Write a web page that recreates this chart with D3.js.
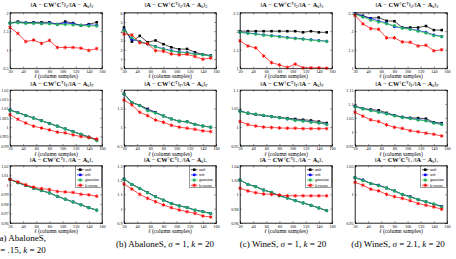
<!DOCTYPE html>
<html>
<head>
<meta charset="utf-8">
<script src="https://cdn.jsdelivr.net/npm/d3@7"></script>
<style>
body { margin: 0; background: #fff; }
svg { display: block; }
text { font-family: "Liberation Serif", serif; fill: #000; }
</style>
</head>
<body>
<script>
// column sample counts (x values) and axis ticks
const ells = [20, 32, 44, 56, 68, 80, 92, 104, 116, 128, 140, 152];
const xTicks = [20, 40, 60, 80, 100, 120, 140, 160];
const seriesNames = ["unif", "srft", "gaussian", "levscore"];
const normSubs = ["2", "F", "\u22c6"];

// spectral norm row
const unif_spec_a = [1.72, 1.76, 1.73, 1.74, 1.74, 1.74, 1.69, 1.76, 1.72, 1.65, 1.69, 1.74];
const srft_spec_a = [1.72, 1.74, 1.72, 1.72, 1.71, 1.72, 1.69, 1.72, 1.70, 1.66, 1.67, 1.66];
const gauss_spec_a = [1.72, 1.73, 1.71, 1.71, 1.70, 1.70, 1.68, 1.68, 1.67, 1.66, 1.64, 1.64];
const lev_spec_a = [1.60, 1.44, 1.22, 1.26, 1.17, 1.25, 1.06, 1.06, 1.06, 1.04, 0.98, 1.03];

const unif_spec_b = [4.4, 2.87, 3.5, 2.8, 3.0, 2.6, 2.26, 2.05, 2.08, 1.72, 1.5, 1.36];
const srft_spec_b = [4.2, 3.1, 2.9, 2.6, 2.35, 2.1, 1.9, 1.75, 1.7, 1.55, 1.45, 1.35];
const gauss_spec_b = [4.1, 3.3, 2.85, 2.65, 2.3, 2.05, 1.85, 1.7, 1.65, 1.5, 1.45, 1.3];
const lev_spec_b = [3.7, 3.6, 2.76, 2.65, 1.9, 1.83, 1.54, 1.45, 1.5, 1.26, 0.97, 1.1];

const unif_spec_c = [2.0, 2.0, 2.0, 2.0, 2.0, 2.0, 2.0, 2.0, 1.97, 2.0, 1.97, 1.97];
const srft_spec_c = [1.97, 1.95, 1.93, 1.9, 1.88, 1.86, 1.83, 1.81, 1.79, 1.77, 1.75, 1.73];
const gauss_spec_c = [1.97, 1.94, 1.92, 1.89, 1.87, 1.85, 1.82, 1.80, 1.78, 1.76, 1.74, 1.72];
const lev_spec_c = [1.74, 1.6, 1.55, 1.33, 1.15, 1.09, 1.02, 1.11, 1.01, 1.01, 1.01, 1.0];

const unif_spec_d = [2.48, 2.42, 2.35, 2.37, 2.28, 2.27, 2.1, 2.1, 2.1, 2.14, 2.03, 2.03];
const srft_spec_d = [2.47, 2.4, 2.34, 2.28, 2.22, 2.12, 2.09, 2.06, 2.02, 1.97, 1.9, 1.86];
const gauss_spec_d = [2.45, 2.38, 2.3, 2.25, 2.2, 2.15, 2.08, 2.05, 2.0, 1.95, 1.88, 1.85];
const lev_spec_d = [2.43, 2.2, 2.07, 2.05, 1.82, 1.82, 1.71, 1.7, 1.6, 1.62, 1.47, 1.5];

// frobenius norm row
const unif_frob_a = [1.0092, 1.0078, 1.0064, 1.0049, 1.0035, 1.002, 1.0006, 0.9991, 0.9976, 0.9962, 0.9947, 0.9932];
const srft_frob_a = [1.0092, 1.0078, 1.0063, 1.0049, 1.0034, 1.002, 1.0005, 0.999, 0.9976, 0.9961, 0.9946, 0.993];
const gauss_frob_a = [1.0091, 1.0077, 1.0063, 1.0048, 1.0034, 1.0019, 1.0005, 0.999, 0.9975, 0.9961, 0.9945, 0.9927];
const lev_frob_a = [1.0067, 1.0042, 1.0022, 1.0005, 0.9995, 0.9985, 0.9973, 0.9969, 0.9958, 0.9949, 0.9944, 0.9936];

const unif_frob_b = [1.9, 1.67, 1.59, 1.49, 1.4, 1.3, 1.22, 1.16, 1.15, 1.08, 1.03, 1.0];
const srft_frob_b = [1.89, 1.66, 1.58, 1.46, 1.39, 1.3, 1.22, 1.16, 1.14, 1.07, 1.03, 1.0];
const gauss_frob_b = [1.89, 1.66, 1.58, 1.44, 1.38, 1.3, 1.22, 1.16, 1.14, 1.07, 1.03, 1.0];
const lev_frob_b = [1.73, 1.6, 1.4, 1.31, 1.19, 1.13, 1.05, 1.0, 0.97, 0.94, 0.9, 0.88];

const unif_frob_c = [1.044, 1.037, 1.034, 1.031, 1.029, 1.026, 1.024, 1.022, 1.02, 1.018, 1.015, 1.011];
const srft_frob_c = [1.043, 1.038, 1.035, 1.031, 1.028, 1.025, 1.022, 1.019, 1.017, 1.014, 1.011, 1.008];
const gauss_frob_c = [1.042, 1.038, 1.035, 1.032, 1.028, 1.025, 1.022, 1.018, 1.016, 1.013, 1.011, 1.007];
const lev_frob_c = [1.015, 1.007, 1.003, 1.0, 0.999, 0.998, 0.997, 0.997, 0.996, 0.996, 0.996, 0.996];

const unif_frob_d = [1.093, 1.083, 1.08, 1.077, 1.068, 1.059, 1.053, 1.05, 1.049, 1.047, 1.034, 1.031];
const srft_frob_d = [1.091, 1.083, 1.077, 1.071, 1.065, 1.058, 1.052, 1.048, 1.044, 1.04, 1.032, 1.028];
const gauss_frob_d = [1.09, 1.082, 1.076, 1.07, 1.064, 1.057, 1.051, 1.047, 1.042, 1.039, 1.031, 1.026];
const lev_frob_d = [1.07, 1.056, 1.043, 1.037, 1.025, 1.016, 1.012, 1.004, 1.0, 0.995, 0.991, 0.985];

// trace norm row
const unif_trace_a = [1.0057, 1.0022, 0.9993, 0.9965, 0.994, 0.9915, 0.988, 0.985, 0.982, 0.979, 0.976, 0.9735];
const srft_trace_a = [1.0057, 1.0022, 0.9993, 0.9965, 0.994, 0.9914, 0.988, 0.985, 0.982, 0.979, 0.976, 0.9735];
const gauss_trace_a = [1.0057, 1.0022, 0.9993, 0.9964, 0.9939, 0.9914, 0.9879, 0.9849, 0.9819, 0.979, 0.976, 0.9734];
const lev_trace_a = [1.0057, 1.003, 1.0, 0.9975, 0.996, 0.995, 0.993, 0.9925, 0.992, 0.99, 0.9895, 0.988];

const unif_trace_b = [1.207, 1.17, 1.142, 1.112, 1.084, 1.06, 1.037, 1.02, 1.009, 0.99, 0.979, 0.967];
const srft_trace_b = [1.207, 1.17, 1.142, 1.112, 1.084, 1.06, 1.037, 1.019, 1.009, 0.99, 0.979, 0.967];
const gauss_trace_b = [1.206, 1.169, 1.141, 1.111, 1.083, 1.059, 1.036, 1.019, 1.008, 0.989, 0.978, 0.966];
const lev_trace_b = [1.172, 1.137, 1.1, 1.072, 1.049, 1.026, 1.007, 0.991, 0.979, 0.967, 0.949, 0.942];

const unif_trace_c = [1.02, 1.014, 1.0107, 1.006, 1.0028, 0.998, 0.9949, 0.9912, 0.988, 0.9847, 0.981, 0.9772];
const srft_trace_c = [1.02, 1.014, 1.0107, 1.006, 1.0028, 0.998, 0.9949, 0.9912, 0.988, 0.9847, 0.981, 0.9772];
const gauss_trace_c = [1.0199, 1.0139, 1.0106, 1.0059, 1.0027, 0.9979, 0.9948, 0.9911, 0.9879, 0.9846, 0.9809, 0.9771];
const lev_trace_c = [1.0084, 1.0047, 1.0023, 1.0005, 1.0, 0.9991, 0.998, 0.998, 0.998, 0.998, 0.998, 0.998];

const unif_trace_d = [1.029, 1.025, 1.019, 1.016, 1.011, 1.006, 1.0, 0.996, 0.991, 0.987, 0.983, 0.979];
const srft_trace_d = [1.029, 1.025, 1.019, 1.016, 1.011, 1.006, 1.0, 0.996, 0.991, 0.987, 0.983, 0.979];
const gauss_trace_d = [1.029, 1.024, 1.019, 1.015, 1.011, 1.006, 1.0, 0.995, 0.991, 0.987, 0.983, 0.978];
const lev_trace_d = [1.021, 1.016, 1.009, 1.006, 1.0, 0.996, 0.993, 0.989, 0.984, 0.981, 0.978, 0.974];

// y tick labels per panel (row by row)
const yTicks = [
    [[0.5, 1, 1.5, 2], [0, 1, 2, 3, 4, 5, 6], [1, 1.5, 2, 2.5], [1, 1.5, 2, 2.5]],
    [[0.99, 0.995, 1, 1.005, 1.01, 1.015, 1.02], [0.5, 1, 1.5, 2], [0.95, 1, 1.05, 1.1], [0.95, 1, 1.05, 1.1, 1.15]],
    [[0.96, 0.97, 0.98, 0.99, 1, 1.01, 1.02], [0.9, 1, 1.1, 1.2, 1.3], [0.96, 0.98, 1, 1.02, 1.04], [0.95, 1, 1.05]]
];

const panelData = [
    [[unif_spec_a, srft_spec_a, gauss_spec_a, lev_spec_a], [unif_spec_b, srft_spec_b, gauss_spec_b, lev_spec_b],
     [unif_spec_c, srft_spec_c, gauss_spec_c, lev_spec_c], [unif_spec_d, srft_spec_d, gauss_spec_d, lev_spec_d]],
    [[unif_frob_a, srft_frob_a, gauss_frob_a, lev_frob_a], [unif_frob_b, srft_frob_b, gauss_frob_b, lev_frob_b],
     [unif_frob_c, srft_frob_c, gauss_frob_c, lev_frob_c], [unif_frob_d, srft_frob_d, gauss_frob_d, lev_frob_d]],
    [[unif_trace_a, srft_trace_a, gauss_trace_a, lev_trace_a], [unif_trace_b, srft_trace_b, gauss_trace_b, lev_trace_b],
     [unif_trace_c, srft_trace_c, gauss_trace_c, lev_trace_c], [unif_trace_d, srft_trace_d, gauss_trace_d, lev_trace_d]]
];

let w = 456;
let h = 259;

// layout
let colX = [10, 124, 240, 355];
let plotW = 92;
let rowY = [12.7, 90, 165.7];
let rowH = [55.5, 55.7, 57.3];
let titleDy = [-5.7, -4, -3.7];

let lineColors = ["#000000", "#0000ff", "#22dd22", "#ff0000"];
let markerFill = ["#000000", "#0000ff", "#2a9d74", "#ff0000"];
let markerType = [d3.symbolSquare, d3.symbolCircle, d3.symbolCircle, d3.symbolAsterisk];
let markerSize = [6.5, 6.5, 6.5, 9];

let svg = d3.select("body")
    .append("svg")
    .attr("width", w)
    .attr("height", h);

function addTitle(g, x, y, sub) {
    let t = g.append("text")
        .attr("x", x)
        .attr("y", y)
        .attr("text-anchor", "middle")
        .attr("font-size", "6.3px");
    let parts = [
        ["\u2016", "", 0], ["A", "b", 0], [" \u2212 ", "", 0], ["CW", "b", 0],
        ["\u2020", "s", -2], ["C", "b", 2], ["T", "s", -2], ["\u2016", "", 2],
        [sub, "s", 1.3], ["/\u2016", "", -1.3], ["A", "b", 0], [" \u2212 ", "", 0],
        ["A", "b", 0], ["k", "s", 1.3], ["\u2016", "", -1.3], [sub, "s", 1.3]
    ];
    parts.forEach(function (p) {
        let ts = t.append("tspan").text(p[0]).attr("dy", p[2]);
        if (p[1] === "b") ts.attr("font-weight", "bold");
        if (p[1] === "s") ts.attr("font-size", "4.4px");
    });
}

for (let r = 0; r < 3; r++) {
    for (let c = 0; c < 4; c++) {
        let ph = rowH[r];
        let ticks = yTicks[r][c];
        let g = svg.append("g")
            .attr("transform", "translate(" + colX[c] + "," + rowY[r] + ")");

        let x = d3.scaleLinear().domain([20, 160]).range([0, plotW]);
        let y = d3.scaleLinear().domain(d3.extent(ticks)).range([ph, 0]);

        g.append("rect")
            .attr("width", plotW)
            .attr("height", ph)
            .attr("fill", "#fff");

        // axes with inward ticks (box style)
        let fmt = d3.format("~g");
        let xb = g.append("g").attr("transform", "translate(0," + ph + ")")
            .call(d3.axisBottom(x).tickValues(xTicks).tickSize(-1.8).tickPadding(1.6).tickFormat(fmt));
        let xt = g.append("g")
            .call(d3.axisTop(x).tickValues(xTicks).tickSize(-1.8).tickFormat(""));
        let yl = g.append("g")
            .call(d3.axisLeft(y).tickValues(ticks).tickSize(-1.8).tickPadding(1.5).tickFormat(fmt));
        let yr = g.append("g").attr("transform", "translate(" + plotW + ",0)")
            .call(d3.axisRight(y).tickValues(ticks).tickSize(-1.8).tickFormat(""));
        [xb, xt, yl, yr].forEach(function (a) {
            a.selectAll("path").attr("stroke-width", 0.5);
            a.selectAll("line").attr("stroke-width", 0.4);
            a.selectAll("text")
                .attr("font-size", "4.2px")
                .attr("font-family", "Liberation Serif, serif");
        });

        // series
        let data = panelData[r][c];
        for (let s = 0; s < 4; s++) {
            let pts = ells.map(function (l, i) { return [l, data[s][i]]; });
            g.append("path")
                .datum(pts)
                .attr("fill", "none")
                .attr("stroke", lineColors[s])
                .attr("stroke-width", 0.7)
                .attr("d", d3.line().x(function (d) { return x(d[0]); }).y(function (d) { return y(d[1]); }));

            g.selectAll(".m" + s)
                .data(pts)
                .enter()
                .append("path")
                .attr("class", "m" + s)
                .attr("transform", function (d) { return "translate(" + x(d[0]) + "," + y(d[1]) + ")"; })
                .attr("d", d3.symbol().type(markerType[s]).size(markerSize[s]))
                .attr("fill", s === 3 ? "none" : markerFill[s])
                .attr("stroke", s === 3 ? "#ff0000" : (s === 2 ? "#22cc55" : "none"))
                .attr("stroke-width", s === 3 ? 0.9 : 0.4);
        }

        // title
        addTitle(g, plotW / 2 + 6, titleDy[r], normSubs[r]);

        // x label
        let xl = g.append("text")
            .attr("x", plotW / 2)
            .attr("y", ph + 10.3)
            .attr("text-anchor", "middle")
            .attr("font-size", "5.6px");
        xl.append("tspan").attr("font-style", "italic").text("\u2113");
        xl.append("tspan").text(" (column samples)");

        // legend on the last row
        if (r === 2) {
            let lg = g.append("g").attr("transform", "translate(" + (plotW - 26.5) + ",0.4)");
            lg.append("rect")
                .attr("width", 26)
                .attr("height", 21.6)
                .attr("fill", "#fff")
                .attr("stroke", "#000")
                .attr("stroke-width", 0.4);
            for (let s = 0; s < 4; s++) {
                let ly = 3.6 + s * 5.2;
                lg.append("line")
                    .attr("x1", 1.5).attr("x2", 8)
                    .attr("y1", ly).attr("y2", ly)
                    .attr("stroke", lineColors[s])
                    .attr("stroke-width", 0.7);
                lg.append("path")
                    .attr("transform", "translate(4.75," + ly + ")")
                    .attr("d", d3.symbol().type(markerType[s]).size(markerSize[s]))
                    .attr("fill", s === 3 ? "none" : markerFill[s])
                    .attr("stroke", s === 3 ? "#ff0000" : (s === 2 ? "#22cc55" : "none"))
                    .attr("stroke-width", s === 3 ? 0.9 : 0.4);
                lg.append("text")
                    .attr("x", 9.5)
                    .attr("y", ly + 1.4)
                    .attr("font-size", "4px")
                    .text(seriesNames[s]);
            }
        }

        // frame on top
        g.append("rect")
            .attr("width", plotW)
            .attr("height", ph)
            .attr("fill", "none")
            .attr("stroke", "#000")
            .attr("stroke-width", 0.5);
    }
}

// captions
function caption(x, y, anchor, pieces) {
    let t = svg.append("text")
        .attr("x", x)
        .attr("y", y)
        .attr("text-anchor", anchor)
        .attr("font-size", "9px");
    pieces.forEach(function (p) {
        let ts = t.append("tspan").text(p[0]);
        if (p[1]) ts.attr("font-style", "italic");
    });
}

caption(-3.5, 240.5, "start", [["(a) AbaloneS,", false]]);
caption(-6.5, 252.5, "start", [["\u03c3", true], [" = .15, ", false], ["k", true], [" = 20", false]]);
caption(165, 247, "middle", [["(b) AbaloneS, ", false], ["\u03c3", true], [" = 1, ", false], ["k", true], [" = 20", false]]);
caption(283, 247, "middle", [["(c) WineS, ", false], ["\u03c3", true], [" = 1, ", false], ["k", true], [" = 20", false]]);
caption(398, 247, "middle", [["(d) WineS, ", false], ["\u03c3", true], [" = 2.1, ", false], ["k", true], [" = 20", false]]);
</script>
</body>
</html>
